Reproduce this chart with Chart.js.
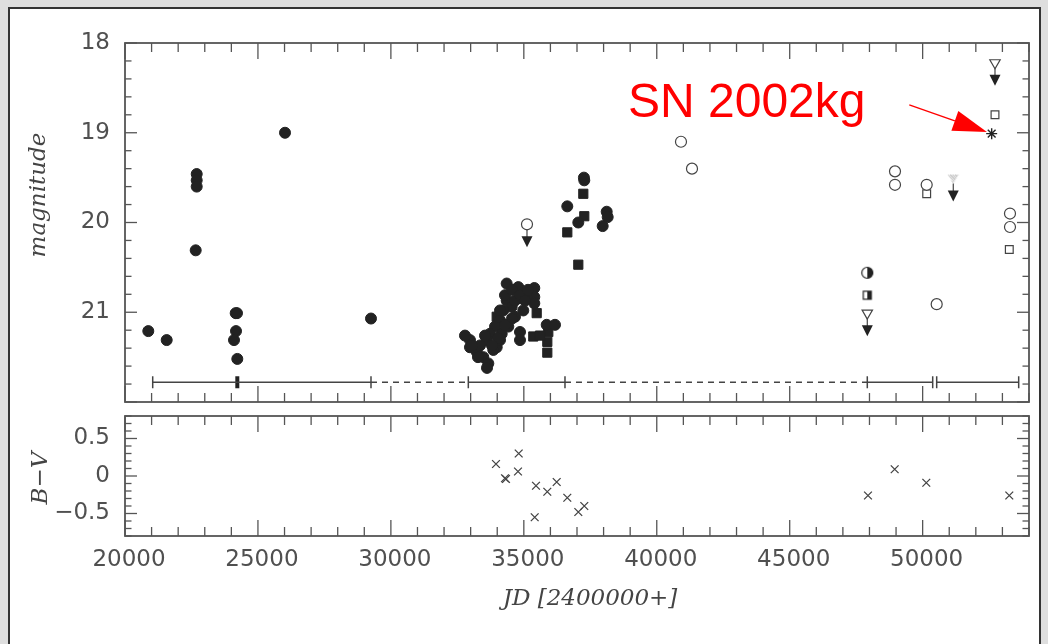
<!DOCTYPE html>
<html>
<head>
<meta charset="utf-8">
<script src="https://cdn.jsdelivr.net/npm/chart.js@4.4.1/dist/chart.umd.min.js"></script>
<style>
  html, body { margin: 0; padding: 0; width: 1048px; height: 644px; overflow: hidden; background: #dedede; }
  #panel { position: absolute; left: 8px; top: 7px; width: 1033px; height: 660px; background: #fff; border: 2px solid #333; box-sizing: border-box; }
  canvas { position: absolute; left: 0; }
  #top { top: 0; }
  #bottom { top: 404px; }
</style>
</head>
<body>
<div id="panel"></div>
<canvas id="top" width="1048" height="406"></canvas>
<canvas id="bottom" width="1048" height="240"></canvas>
<script>
// B magnitudes, filled circles
const dotJD = [20876, 21568, 22697, 22697, 22697, 22659, 24163, 24212, 24175, 24100, 24224, 26018, 29252,
  34355, 34792, 35394, 35394, 35394, 34355, 34544, 34228, 34104, 33916, 33728, 33604, 32975, 32975,
  33227, 33476, 33664, 33980, 34104, 34856, 34856, 35860, 36172, 35108, 34980, 34668, 34416, 34168, 33852,
  33352, 33540, 34104, 34292, 34555, 34668, 34856, 35044, 35157, 34555, 34292, 34029, 33803, 33276, 33051,
  32787, 33615,
  37274, 37260, 36635, 37049, 38117, 38154, 37966];
const dotMag = [21.21, 21.31, 19.46, 19.53, 19.60, 20.31, 21.01, 21.01, 21.21, 21.31, 21.52, 19.00, 21.07,
  20.68, 20.72, 20.73, 20.83, 20.90, 20.87, 20.94, 20.98, 21.09, 21.16, 21.24, 21.31, 21.31, 21.39,
  21.44, 21.50, 21.57, 21.39, 21.31, 21.22, 21.31, 21.14, 21.14, 20.83, 20.98, 21.05, 21.16, 21.24, 21.42,
  21.37, 21.26, 20.98, 20.81, 20.75, 20.87, 20.81, 20.87, 20.75, 21.07, 21.14, 21.29, 21.37, 21.50, 21.37,
  21.26, 21.62,
  19.53, 19.50, 19.82, 20.00, 19.88, 19.94, 20.04];

// filled squares
const boxJD = [35484, 33980, 35356, 35883, 35883, 35920, 35608, 37237, 37274, 36635, 37049];
const boxMag = [21.01, 21.05, 21.27, 21.33, 21.45, 21.22, 21.26, 19.68, 19.93, 20.11, 20.47];

// open circles
const ringJD = [35119, 40911, 41325, 48960, 48960, 50152, 50528, 53285, 53285];
const ringMag = [20.02, 19.10, 19.40, 19.43, 19.58, 19.58, 20.91, 19.90, 20.05];

// open squares
const openBoxJD = [50152, 52721, 53259];
const openBoxMag = [19.68, 18.80, 20.30];

// open triangles (limits)
const limJD = [52721, 47918];
const limMag = [18.22, 21.01];

// hatched triangle
const hatchJD = [51152];
const hatchMag = [19.51];

// half-filled symbols
const halfDotJD = [47918];
const halfDotMag = [20.56];
const halfBoxJD = [47918];
const halfBoxMag = [20.81];

// the supernova itself
const snJD = [52596];
const snMag = [19.01];

// points that carry a downward arrow
const arrowJD = [35119, 52721, 47918, 51152];
const arrowMag = [20.02, 18.22, 21.01, 19.51];

// plate coverage bar
const coverMag = 21.78;
const solidSpans = [[21042, 24224], [24224, 29252], [32912, 36548], [47918, 50378], [50528, 53612]];
const dashedSpans = [[29252, 32912], [36548, 47918]];
const capJD = [21042, 29252, 32912, 36548, 47918, 50378, 50528, 53612];
const thickCapJD = [24224];

// B-V colours
const colorJD = [33953, 34329, 34292, 34807, 34781, 35458, 35883, 36236, 36635, 37049, 37274, 35409,
  47944, 48948, 50137, 53259];
const colorBV = [0.16, -0.04, -0.03, 0.30, 0.06, -0.13, -0.21, -0.08, -0.29, -0.48, -0.40, -0.55,
  -0.26, 0.09, -0.09, -0.26];

// ticks and labels
const jdMin = 20000, jdMax = 54000;
const jdLabels = [20000, 25000, 30000, 35000, 40000, 45000, 50000];
const magTicks = [18, 19, 20, 21];
const bvTicks = [-0.5, 0, 0.5];

const noteText = 'SN 2002kg';
const noteJD = 38918, noteMag = 18.825;
const noteTailJD = 49498, noteTailMag = 18.69;

Chart.defaults.font.family = '"DejaVu Sans", sans-serif';
const ink = '#222';
const line = '#444';
const titleFont = 'italic 23px "DejaVu Serif", serif';

const pts = (xs, ys) => xs.map((v, i) => ({ x: v, y: ys[i] }));

function marker(size, draw) {
  const c = document.createElement('canvas');
  c.width = c.height = size;
  draw(c.getContext('2d'), size / 2);
  return c;
}

const halfDot = marker(14, (g, c) => {
  g.fillStyle = '#fff';
  g.beginPath(); g.arc(c, c, 5.5, 0, Math.PI * 2); g.fill();
  g.fillStyle = ink;
  g.beginPath(); g.arc(c, c, 5.5, -Math.PI / 2, Math.PI / 2); g.fill();
  g.strokeStyle = ink; g.lineWidth = 1.2;
  g.beginPath(); g.arc(c, c, 5.5, 0, Math.PI * 2); g.stroke();
});

const halfBox = marker(12, (g, c) => {
  g.fillStyle = '#fff'; g.fillRect(c - 4, c - 4, 8, 8);
  g.fillStyle = ink; g.fillRect(c, c - 4, 4, 8);
  g.strokeStyle = ink; g.lineWidth = 1.2; g.strokeRect(c - 4, c - 4, 8, 8);
});

const hatchTri = marker(14, (g, c) => {
  g.beginPath();
  g.moveTo(c - 5.5, c - 4); g.lineTo(c + 5.5, c - 4); g.lineTo(c, c + 5); g.closePath();
  g.save(); g.clip();
  g.strokeStyle = '#999'; g.lineWidth = 1;
  for (let k = -14; k < 28; k += 2.5) { g.beginPath(); g.moveTo(k, 0); g.lineTo(k + 14, 14); g.stroke(); }
  g.restore();
  g.strokeStyle = '#888'; g.lineWidth = 1.2; g.stroke();
});

// axis box with inward ticks on all four sides, plus the axis titles
const frame = {
  id: 'frame',
  afterDraw(chart, args, o) {
    const { ctx, chartArea: a, scales: { x, y } } = chart;
    ctx.save();
    ctx.strokeStyle = '#555';
    ctx.lineWidth = 1.3;
    const seg = (x0, y0, x1, y1) => { ctx.beginPath(); ctx.moveTo(x0, y0); ctx.lineTo(x1, y1); ctx.stroke(); };
    const each = (min, max, step, major, fn) => {
      for (let i = Math.ceil(min / step - 1e-6); i * step <= max + 1e-6; i++) {
        const v = i * step;
        const r = v / major;
        fn(v, Math.abs(r - Math.round(r)) < 1e-6);
      }
    };
    each(x.min, x.max, o.xMinor, o.xMajor, (v, big) => {
      const px = x.getPixelForValue(v), len = big ? 16 : 9;
      seg(px, a.bottom, px, a.bottom - len);
      seg(px, a.top, px, a.top + len);
    });
    each(Math.min(y.min, y.max), Math.max(y.min, y.max), o.yMinor, o.yMajor, (v, big) => {
      const py = y.getPixelForValue(v), len = big ? 12 : 6.5;
      seg(a.left, py, a.left + len, py);
      seg(a.right, py, a.right - len, py);
    });
    ctx.lineWidth = 1.8;
    ctx.strokeRect(a.left, a.top, a.right - a.left, a.bottom - a.top);

    ctx.fillStyle = '#444';
    ctx.font = titleFont;
    ctx.textAlign = 'center';
    ctx.textBaseline = 'middle';
    if (o.xTitle) ctx.fillText(o.xTitle.text, o.xTitle.x, o.xTitle.y);
    if (o.yTitle) {
      ctx.translate(o.yTitle.x, o.yTitle.y);
      ctx.rotate(-Math.PI / 2);
      ctx.fillText(o.yTitle.text, 0, 0);
    }
    ctx.restore();
  }
};

// stems and filled heads under upper limits
const limitArrows = {
  id: 'limitArrows',
  afterDatasetsDraw(chart) {
    const { ctx, scales: { x, y } } = chart;
    ctx.save();
    ctx.strokeStyle = '#444';
    ctx.fillStyle = ink;
    ctx.lineWidth = 1.2;
    arrowJD.forEach((jd, i) => {
      const px = x.getPixelForValue(jd), py = y.getPixelForValue(arrowMag[i]);
      ctx.beginPath(); ctx.moveTo(px, py + 5); ctx.lineTo(px, py + 13); ctx.stroke();
      ctx.beginPath();
      ctx.moveTo(px - 5.5, py + 12); ctx.lineTo(px + 5.5, py + 12); ctx.lineTo(px, py + 23);
      ctx.closePath(); ctx.fill();
    });
    ctx.restore();
  }
};

// red label with an arrow pointing at the supernova
const snNote = {
  id: 'snNote',
  afterDraw(chart) {
    const { ctx, scales: { x, y } } = chart;
    ctx.save();
    ctx.fillStyle = ctx.strokeStyle = '#ff0000';
    ctx.font = '48px "Liberation Sans", Arial, sans-serif';
    ctx.textBaseline = 'alphabetic';
    ctx.fillText(noteText, x.getPixelForValue(noteJD), y.getPixelForValue(noteMag));
    const x0 = x.getPixelForValue(noteTailJD), y0 = y.getPixelForValue(noteTailMag);
    const x1 = x.getPixelForValue(snJD[0]), y1 = y.getPixelForValue(snMag[0]);
    const ang = Math.atan2(y1 - y0, x1 - x0), c = Math.cos(ang), s = Math.sin(ang);
    const tx = x1 - 5 * c, ty = y1 - 5 * s;
    const bx = tx - 34 * c, by = ty - 34 * s;
    ctx.lineWidth = 1.4;
    ctx.beginPath(); ctx.moveTo(x0, y0); ctx.lineTo(bx, by); ctx.stroke();
    ctx.beginPath();
    ctx.moveTo(tx, ty);
    ctx.lineTo(bx - 10.5 * s, by + 10.5 * c);
    ctx.lineTo(bx + 10.5 * s, by - 10.5 * c);
    ctx.closePath(); ctx.fill();
    ctx.restore();
  }
};

const coverSets = [
  ...solidSpans.map(sp => ({ data: [{ x: sp[0], y: coverMag }, { x: sp[1], y: coverMag }], dash: [] })),
  ...dashedSpans.map(sp => ({ data: [{ x: sp[0], y: coverMag }, { x: sp[1], y: coverMag }], dash: [6, 5] }))
].map(d => ({
  data: d.data, showLine: true, borderColor: line, borderWidth: 1.5, borderDash: d.dash, pointRadius: 0
}));

const noAxis = { grid: { display: false, drawTicks: false }, border: { display: false } };

// fixed axis width; the label half-heights must not eat into the plot box
const fixWidth = s => { s.width = 125; s.paddingTop = 0; s.paddingBottom = 0; };

new Chart(document.getElementById('top'), {
  type: 'scatter',
  data: {
    datasets: [
      ...coverSets,
      { data: pts(capJD, capJD.map(() => coverMag)), pointStyle: 'line', rotation: 90, pointRadius: 6, borderColor: line, borderWidth: 1.5 },
      { data: pts(thickCapJD, [coverMag]), pointStyle: 'line', rotation: 90, pointRadius: 6, borderColor: ink, borderWidth: 4 },
      { data: pts(dotJD, dotMag), pointStyle: 'circle', pointRadius: 5.5, backgroundColor: ink, borderColor: ink, borderWidth: 1 },
      { data: pts(boxJD, boxMag), pointStyle: 'rect', pointRadius: 6.5, backgroundColor: ink, borderColor: ink, borderWidth: 1 },
      { data: pts(ringJD, ringMag), pointStyle: 'circle', pointRadius: 5.5, backgroundColor: '#fff', borderColor: line, borderWidth: 1.2 },
      { data: pts(openBoxJD, openBoxMag), pointStyle: 'rect', pointRadius: 5.5, backgroundColor: '#fff', borderColor: line, borderWidth: 1.2 },
      { data: pts(limJD, limMag), pointStyle: 'triangle', rotation: 180, pointRadius: 6, backgroundColor: '#fff', borderColor: line, borderWidth: 1.2 },
      { data: pts(hatchJD, hatchMag), pointStyle: hatchTri },
      { data: pts(halfDotJD, halfDotMag), pointStyle: halfDot },
      { data: pts(halfBoxJD, halfBoxMag), pointStyle: halfBox },
      { data: pts(snJD, snMag), pointStyle: 'star', pointRadius: 5.5, borderColor: ink, borderWidth: 1.4 }
    ]
  },
  options: {
    responsive: false,
    animation: false,
    events: [],
    layout: { autoPadding: false, padding: { top: 43, right: 19, left: 0, bottom: 0 } },
    plugins: {
      legend: { display: false },
      tooltip: { enabled: false },
      frame: { xMinor: 1000, xMajor: 5000, yMinor: 0.2, yMajor: 1, yTitle: { text: 'magnitude', x: 39, y: 195 } }
    },
    scales: {
      x: {
        type: 'linear', min: jdMin, max: jdMax, ...noAxis,
        ticks: { display: false },
        afterFit: s => { s.height = 4; }
      },
      y: {
        type: 'linear', reverse: true, min: 18, max: 22, ...noAxis,
        afterBuildTicks: s => { s.ticks = magTicks.map(v => ({ value: v })); },
        ticks: { padding: 15, color: '#505050', font: { size: 23 }, callback: v => String(v) },
        afterFit: fixWidth
      }
    }
  },
  plugins: [frame, limitArrows, snNote]
});

new Chart(document.getElementById('bottom'), {
  type: 'scatter',
  data: {
    datasets: [
      { data: pts(colorJD, colorBV), pointStyle: 'crossRot', pointRadius: 5.5, borderColor: line, borderWidth: 1.3 }
    ]
  },
  options: {
    responsive: false,
    animation: false,
    events: [],
    layout: { autoPadding: false, padding: { top: 12, right: 19, left: 0, bottom: 0 } },
    plugins: {
      legend: { display: false },
      tooltip: { enabled: false },
      frame: {
        xMinor: 1000, xMajor: 5000, yMinor: 0.1, yMajor: 0.5,
        xTitle: { text: 'JD [2400000+]', x: 590, y: 195 },
        yTitle: { text: 'B\u2212V', x: 41, y: 74 }
      }
    },
    scales: {
      x: {
        type: 'linear', min: jdMin, max: jdMax, ...noAxis,
        afterBuildTicks: s => { s.ticks = jdLabels.map(v => ({ value: v })); },
        ticks: { padding: 10, labelOffset: 4, color: '#505050', font: { size: 23 }, maxRotation: 0, callback: v => String(v) },
        afterFit: s => { s.height = 108; }
      },
      y: {
        type: 'linear', min: -0.8, max: 0.8, ...noAxis,
        afterBuildTicks: s => { s.ticks = bvTicks.map(v => ({ value: v })); },
        ticks: { padding: 15, color: '#505050', font: { size: 23 }, callback: v => (v < 0 ? '\u2212' + Math.abs(v) : String(v)) },
        afterFit: fixWidth
      }
    }
  },
  plugins: [frame]
});
</script>
</body>
</html>
